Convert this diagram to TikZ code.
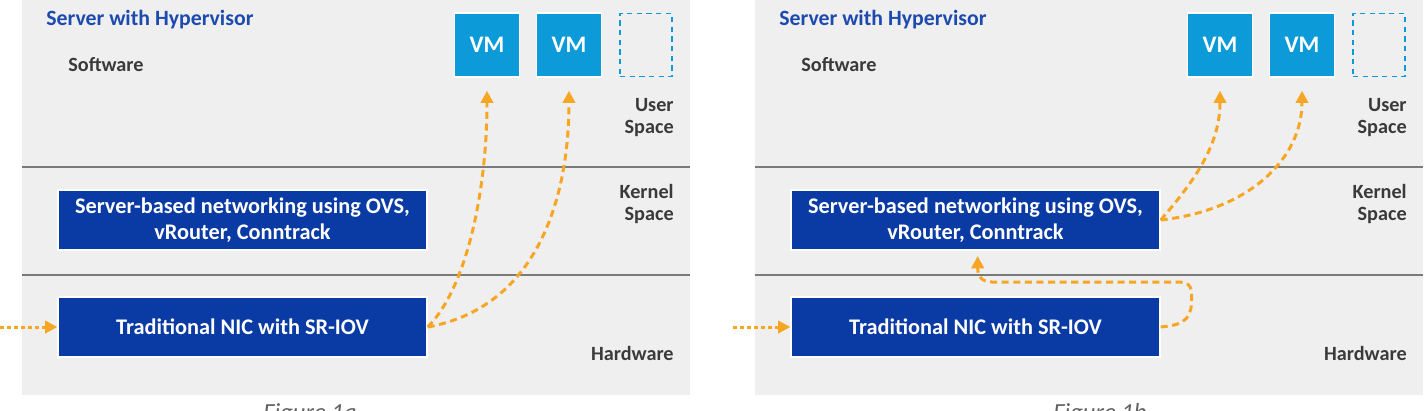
\documentclass[tikz,border=0pt]{standalone}
\usepackage{fontspec}
\setmainfont{Carlito}
\usetikzlibrary{arrows.meta}

\definecolor{panelgrey}{HTML}{EFEFEF}
\definecolor{rulegrey}{HTML}{7A7A7A}
\definecolor{hwblue}{HTML}{0A3AA3}
\definecolor{vmblue}{HTML}{0C9BD8}
\definecolor{titleblue}{HTML}{1D4AAE}
\definecolor{labelgrey}{HTML}{3A3A3A}
\definecolor{flowor}{HTML}{F6A623}

\tikzset{
	title/.style={anchor=west, inner sep=0pt, text=titleblue, font=\fontsize{12.4}{14}\selectfont\bfseries},
	layer/.style={anchor=east, inner sep=0pt, align=right, text=labelgrey, font=\fontsize{11.5}{12.5}\selectfont\bfseries},
	netbox/.style={fill=hwblue, draw=white, line width=0.8pt, text=white, align=center,
		minimum width=7.38cm, minimum height=1.2cm, inner sep=0pt,
		font=\fontsize{12.7}{14.8}\selectfont\bfseries},
	vmbox/.style={fill=vmblue, draw=white, line width=0.8pt, text=white,
		minimum width=1.3cm, minimum height=1.28cm, inner sep=0pt,
		font=\fontsize{13.5}{14}\selectfont\bfseries},
	vmslot/.style={draw=vmblue, dashed, dash pattern=on 3pt off 2.5pt, line width=1.1pt,
		minimum width=1.04cm, minimum height=1.26cm, inner sep=0pt},
	flow/.style={draw=flowor, line width=1.7pt, dash pattern=on 4pt off 2.6pt,
		-{Triangle[length=7pt, width=7pt]}},
	inflow/.style={draw=flowor, line width=1.7pt, dash pattern=on 2.2pt off 1.8pt,
		-{Triangle[length=7pt, width=7pt]}},
	figcap/.style={anchor=north west, inner sep=0pt, text=labelgrey!80,
		font=\fontsize{14}{16}\selectfont\itshape},
}

\begin{document}
\begin{tikzpicture}[x=0.02cm, y=-0.02cm]

\useasboundingbox (0,0) rectangle (1425,410);
\clip (0,0) rectangle (1425,410);

% PANELS
\foreach \dx/\p in {0/a,733/b} {
	\fill [panelgrey] (\dx+22,0) rectangle (\dx+690,395);
	\draw [rulegrey, line width=1.2pt] (\dx+22,167) -- (\dx+690,167);
	\draw [rulegrey, line width=1.2pt] (\dx+22,275) -- (\dx+690,275);

	\node [title] (title\p) at (\dx+46,20) {Server with Hypervisor};
	\node [layer, anchor=west] (sw\p) at (\dx+68,65) {Software};
	\node [layer] (user\p) at (\dx+674,118) {User\\Space};
	\node [layer] (kernel\p) at (\dx+674,204) {Kernel\\Space};
	\node [layer] (hw\p) at (\dx+674,353) {Hardware};

	\node [vmbox] (vm1\p) at (\dx+487,45) {VM};
	\node [vmbox] (vm2\p) at (\dx+569,45) {VM};
	\node [vmslot] (vm3\p) at (\dx+646,45) {};

	\node [netbox] (ovs\p) at (\dx+242.5,220) {Server-based networking using OVS,\\vRouter, Conntrack};
	\node [netbox] (nic\p) at (\dx+242.5,327) {Traditional NIC with SR-IOV};

	\coordinate (in\p) at (\dx+0,327);
	\draw [inflow] (in\p) -- (nic\p.west);
}

% FIG 1A: NIC STRAIGHT TO VMs
\draw [flow, shorten >=0.26cm] (nica.east) .. controls +(40,-40) and +(0,110) .. (vm1a.south);
\draw [flow, shorten >=0.26cm] (nica.east) .. controls +(110,-20) and +(0,120) .. (vm2a.south);

% FIG 1B: NIC UP TO OVS, THEN TO VMs
\draw [flow] (nicb.east) .. controls +(28,-2) and +(0,18) .. ++(31,-30)
	.. controls +(0,-12) and +(12,0) .. ++(-15,-15) -- ++(-185,0)
	.. controls +(-10,0) and +(0,8) .. ++(-14,-14) -- ++(0,-12);
\draw [flow, shorten >=0.26cm] (ovsb.east) .. controls +(30,-35) and +(0,70) .. (vm1b.south);
\draw [flow, shorten >=0.26cm] (ovsb.east) .. controls +(90,-10) and +(0,80) .. (vm2b.south);

% CAPTIONS
\node [figcap] (capa) at (263,403) {Figure 1a};
\node [figcap] (capb) at (1053,403) {Figure 1b};

\end{tikzpicture}
\end{document}
